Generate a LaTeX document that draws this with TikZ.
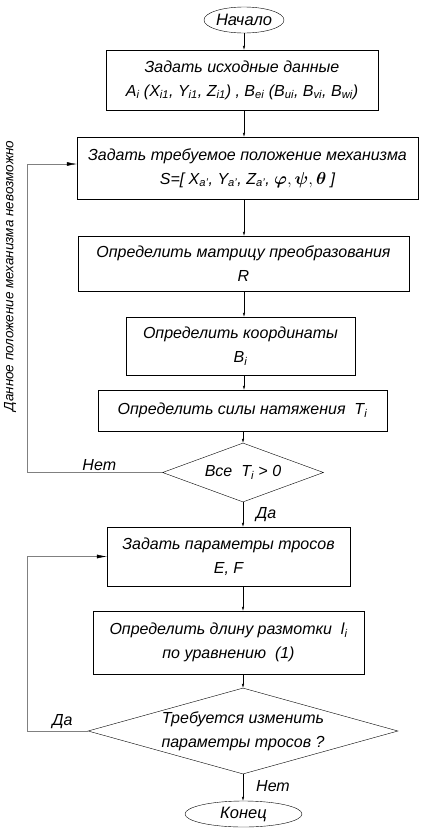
\documentclass[tikz,border=0pt]{standalone}
\usepackage{amsmath}
\usepackage{fontspec}
\setmainfont{Liberation Sans}
\usetikzlibrary{shapes.geometric, arrows.meta, positioning}
\newcommand{\subi}[1]{\textsubscript{#1}}
\tikzset{
	block/.style={
		draw,
		rectangle,
		inner sep=0pt,
		align=center,
		font=\itshape\fontsize{16}{24}\selectfont
	},
	decision/.style={
		draw,
		diamond,
		inner sep=0pt,
		align=center,
		font=\itshape\fontsize{16}{24}\selectfont
	},
	terminal/.style={
		draw,
		ellipse,
		inner sep=0pt,
		minimum height=26pt,
		font=\itshape\fontsize{16.5}{18}\selectfont
	},
	flow/.style={-{Latex[length=4pt,width=2.5pt]}, black},
	backline/.style={gray, -{Latex[length=10pt,width=4pt,color=black]}},
	answer/.style={inner sep=1pt, font=\itshape\fontsize{16}{18}\selectfont}
}

\begin{document}
\begin{tikzpicture}[x=1pt, y=-1pt]
	\useasboundingbox (0,0) rectangle (425,830);

	% main column
	\node[terminal, minimum width=80pt] (start) at (244,20) {Начало};
	\node[block, minimum width=272pt, minimum height=60pt] (input) at (242,80)
		{Задать исходные данные\\
		 A\subi{i} (X\subi{i1}, Y\subi{i1}, Z\subi{i1}) , B\subi{ei} (B\subi{ui}, B\subi{vi}, B\subi{wi})};
	\node[block, minimum width=341pt, minimum height=62pt] (pose) at (247.5,168)
		{Задать требуемое положение механизма\\
		 S=[ X\subi{a'}, Y\subi{a'}, Z\subi{a'}, $\boldsymbol{\varphi},\boldsymbol{\psi},\boldsymbol{\theta}$ ]};
	\node[block, minimum width=331pt, minimum height=55pt] (matrix) at (243.5,263.5)
		{Определить матрицу преобразования\\ R};
	\node[block, minimum width=229pt, minimum height=58pt] (coords) at (240.5,346)
		{Определить координаты\\ B\subi{i}};
	\node[block, minimum width=289pt, minimum height=41pt] (tension) at (242.5,410.5)
		{Определить силы натяжения~~T\subi{i}};
	\node[decision, aspect=2.7, minimum width=161pt, minimum height=59pt] (check) at (243,472.5)
		{Все~~T\subi{i} > 0};
	\node[block, minimum width=243pt, minimum height=59pt] (cables) at (228.5,556.5)
		{Задать параметры тросов\\ E, F};
	\node[block, minimum width=271pt, minimum height=63pt] (length) at (228.5,642.5)
		{Определить длину размотки~~l\subi{i}\\ по уравнению~~(1)};
	\node[decision, aspect=3.6, minimum width=310pt, minimum height=86pt] (change) at (243,731)
		{Требуется изменить\\ параметры тросов ?};
	\node[terminal, minimum width=117pt] (stop) at (243.5,814) {Конец};

	% connections
	\draw[flow] (start.south) -- (start.south |- input.north);
	\draw[flow] (start.south |- input.south) -- (start.south |- pose.north);
	\draw[flow] (start.south |- pose.south) -- (start.south |- matrix.north);
	\draw[flow] (start.south |- matrix.south) -- (start.south |- coords.north);
	\draw[flow] (start.south |- coords.south) -- (start.south |- tension.north);
	\draw[flow] (check.north |- tension.south) -- (check.north);
	\draw[flow] (check.south) -- (check.south |- cables.north);
	\draw[flow] (check.south |- cables.south) -- (check.south |- length.north);
	\draw[flow] (check.south |- length.south) -- (change.north);
	\draw[flow] (change.south) -- (change.south |- stop.north);

	% loops back
	\coordinate (rail) at (27,0);
	\draw[backline] (check.west) -- (rail |- check.west) |- ([yshift=4pt]pose.west);
	\draw[backline] (change.west) -- (rail |- change.west) |- (cables.west);

	% answers
	\node[answer, above left=1pt and 45pt of check.west] (no1) {Нет};
	\node[answer, below right=4pt and 12pt of check.south] (yes1) {Да};
	\node[answer, above left=1pt and 14pt of change.west] (yes2) {Да};
	\node[answer, below right=5pt and 12pt of change.south] (no2) {Нет};
	\node[rotate=90, font=\itshape\fontsize{13.5}{15}\selectfont] (note) at (10,276)
		{Данное положение механизма невозможно};
\end{tikzpicture}
\end{document}
